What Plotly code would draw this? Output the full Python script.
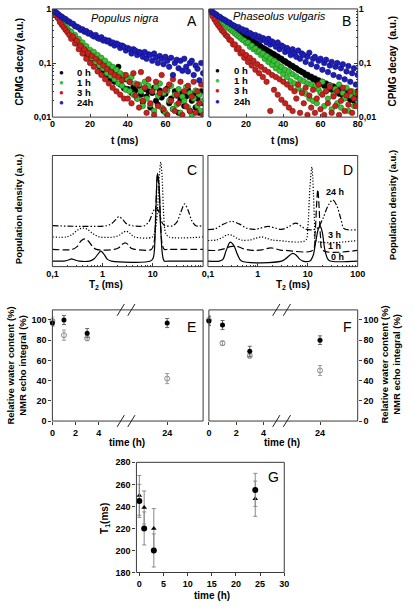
import plotly.graph_objects as go

W, H = 414, 607
FONT = "Liberation Sans, Arial, sans-serif"

# ---------------- DATA ----------------
TIME_MS = [0, 1, 2, 3, 4, 5, 6, 7, 8, 9, 10, 11, 12, 13, 14, 15, 16, 17, 18, 19,
           20, 21, 22, 23, 24, 25, 26, 27, 28, 29, 30, 31, 32, 33, 34, 35, 36, 37, 38, 39,
           40, 41, 42, 43, 44, 45, 46, 47, 48, 49, 50, 51, 52, 53, 54, 55, 56, 57, 58, 59,
           60, 61, 62, 63, 64, 65, 66, 67, 68, 69, 70, 71, 72, 73, 74, 75, 76, 77, 78, 79, 80]

# Panel A - Populus nigra CPMG decays
A_0H = [1.00, 0.89, 0.78, 0.69, 0.61, 0.54, 0.50, 0.43, 0.41, 0.36,
        0.34, 0.29, 0.29, 0.23, 0.25, 0.19, 0.21, 0.15, 0.17, 0.13,
        0.155, 0.115, 0.14, 0.095, 0.125, 0.085, 0.11, 0.072, 0.095, 0.06,
        0.085, 0.05, 0.075, 0.045, 0.06, 0.085, 0.04, 0.058, 0.034, 0.05,
        0.033, 0.045, 0.028, 0.036, 0.031, 0.022, 0.038, 0.026, 0.019, 0.033,
        0.024, 0.03, 0.015, 0.028, 0.035, 0.02, 0.017, 0.031, 0.023, 0.013,
        0.027, 0.034, 0.018, 0.022, 0.014, 0.03, 0.025, 0.012, 0.021, 0.028,
        0.016, 0.024, 0.032, 0.013, 0.02, 0.027, 0.015, 0.022, 0.012, 0.03, 0.018]
A_1H = [1.00, 0.91, 0.81, 0.73, 0.65, 0.59, 0.52, 0.48, 0.43, 0.39,
        0.38, 0.31, 0.33, 0.25, 0.28, 0.21, 0.24, 0.175, 0.205, 0.15,
        0.175, 0.125, 0.16, 0.105, 0.14, 0.09, 0.125, 0.08, 0.11, 0.065,
        0.095, 0.058, 0.085, 0.05, 0.075, 0.042, 0.065, 0.038, 0.06, 0.032,
        0.05, 0.03, 0.055, 0.026, 0.042, 0.022, 0.04, 0.03, 0.016, 0.045,
        0.022, 0.038, 0.017, 0.03, 0.013, 0.036, 0.025, 0.042, 0.015, 0.028,
        0.012, 0.031, 0.02, 0.038, 0.014, 0.026, 0.017, 0.033, 0.012, 0.024,
        0.02, 0.036, 0.015, 0.028, 0.011, 0.022, 0.031, 0.016, 0.026, 0.013, 0.02]
A_3H = [1.00, 0.86, 0.75, 0.67, 0.57, 0.51, 0.46, 0.41, 0.37, 0.33,
        0.28, 0.31, 0.23, 0.26, 0.18, 0.21, 0.15, 0.18, 0.12, 0.155,
        0.10, 0.135, 0.085, 0.12, 0.07, 0.105, 0.06, 0.09, 0.05, 0.078,
        0.042, 0.068, 0.035, 0.06, 0.03, 0.055, 0.026, 0.048, 0.022, 0.06,
        0.022, 0.045, 0.018, 0.065, 0.025, 0.04, 0.015, 0.068, 0.02, 0.035,
        0.012, 0.05, 0.018, 0.03, 0.011, 0.045, 0.016, 0.028, 0.06, 0.014,
        0.032, 0.011, 0.04, 0.02, 0.05, 0.013, 0.026, 0.018, 0.045, 0.011,
        0.03, 0.016, 0.038, 0.013, 0.024, 0.045, 0.012, 0.03, 0.018, 0.04, 0.011]
A_24H = [1.00, 0.94, 0.86, 0.81, 0.75, 0.72, 0.67, 0.65, 0.60, 0.58,
         0.54, 0.53, 0.48, 0.47, 0.45, 0.41, 0.42, 0.38, 0.39, 0.35,
         0.36, 0.33, 0.31, 0.33, 0.29, 0.28, 0.30, 0.26, 0.27, 0.25,
         0.26, 0.23, 0.24, 0.21, 0.23, 0.22, 0.19, 0.21, 0.20, 0.17,
         0.19, 0.18, 0.15, 0.18, 0.17, 0.14, 0.16, 0.155, 0.13, 0.16,
         0.12, 0.145, 0.14, 0.11, 0.15, 0.125, 0.10, 0.135, 0.12, 0.095,
         0.13, 0.11, 0.085, 0.125, 0.06, 0.10, 0.115, 0.08, 0.11, 0.072,
         0.12, 0.085, 0.07, 0.10, 0.11, 0.06, 0.09, 0.078, 0.048, 0.10, 0.065]

# Panel B - Phaseolus vulgaris CPMG decays
B_0H = [1.00, 0.92, 0.85, 0.79, 0.74, 0.69, 0.65, 0.61, 0.58, 0.54,
        0.51, 0.49, 0.46, 0.43, 0.41, 0.39, 0.37, 0.35, 0.33, 0.32,
        0.30, 0.285, 0.27, 0.26, 0.245, 0.235, 0.22, 0.215, 0.20, 0.19,
        0.182, 0.175, 0.165, 0.158, 0.15, 0.145, 0.135, 0.132, 0.122, 0.12,
        0.11, 0.108, 0.10, 0.097, 0.09, 0.088, 0.082, 0.08, 0.074, 0.072,
        0.068, 0.066, 0.06, 0.061, 0.055, 0.056, 0.05, 0.052, 0.046, 0.048,
        0.042, 0.045, 0.038, 0.042, 0.035, 0.039, 0.032, 0.037, 0.03, 0.034,
        0.027, 0.032, 0.025, 0.03, 0.023, 0.028, 0.021, 0.027, 0.02, 0.025, 0.03]
B_1H = [1.00, 0.90, 0.84, 0.75, 0.71, 0.65, 0.61, 0.56, 0.53, 0.49,
        0.46, 0.43, 0.40, 0.38, 0.35, 0.33, 0.31, 0.29, 0.27, 0.26,
        0.235, 0.24, 0.20, 0.21, 0.18, 0.185, 0.16, 0.165, 0.14, 0.15,
        0.12, 0.135, 0.105, 0.12, 0.092, 0.11, 0.08, 0.095, 0.072, 0.085,
        0.062, 0.075, 0.055, 0.07, 0.046, 0.062, 0.042, 0.056, 0.034, 0.05,
        0.03, 0.046, 0.027, 0.042, 0.022, 0.04, 0.02, 0.036, 0.018, 0.032,
        0.028, 0.045, 0.016, 0.03, 0.022, 0.038, 0.014, 0.026, 0.033, 0.018,
        0.04, 0.015, 0.028, 0.022, 0.035, 0.013, 0.025, 0.03, 0.016, 0.028, 0.02]
B_3H = [1.00, 0.85, 0.73, 0.64, 0.56, 0.50, 0.45, 0.40, 0.37, 0.33,
        0.31, 0.27, 0.26, 0.22, 0.22, 0.18, 0.19, 0.15, 0.16, 0.125,
        0.14, 0.105, 0.125, 0.09, 0.11, 0.075, 0.095, 0.065, 0.085, 0.055,
        0.075, 0.045, 0.068, 0.013, 0.06, 0.032, 0.055, 0.026, 0.05, 0.021,
        0.045, 0.018, 0.04, 0.015, 0.035, 0.013, 0.03, 0.022, 0.04, 0.012,
        0.028, 0.018, 0.035, 0.011, 0.025, 0.015, 0.032, 0.012, 0.022, 0.04,
        0.014, 0.026, 0.011, 0.03, 0.018, 0.036, 0.012, 0.024, 0.016, 0.03,
        0.011, 0.02, 0.035, 0.013, 0.025, 0.017, 0.03, 0.012, 0.022, 0.016, 0.028]
B_24H = [1.00, 0.95, 0.88, 0.82, 0.79, 0.73, 0.71, 0.66, 0.64, 0.61,
         0.57, 0.56, 0.52, 0.50, 0.48, 0.45, 0.46, 0.41, 0.42, 0.38,
         0.40, 0.35, 0.36, 0.34, 0.31, 0.33, 0.29, 0.31, 0.26, 0.29,
         0.27, 0.24, 0.28, 0.22, 0.25, 0.23, 0.20, 0.24, 0.18, 0.21,
         0.20, 0.16, 0.19, 0.17, 0.14, 0.18, 0.15, 0.13, 0.17, 0.12,
         0.15, 0.14, 0.105, 0.13, 0.155, 0.095, 0.12, 0.13, 0.085, 0.11,
         0.12, 0.075, 0.10, 0.115, 0.068, 0.09, 0.105, 0.06, 0.085, 0.10,
         0.055, 0.08, 0.095, 0.05, 0.07, 0.088, 0.045, 0.065, 0.08, 0.04, 0.06]

SERIES_NAMES = ["0 h", "1 h", "3 h", "24h"]
SERIES_COLORS = ["#000000", "#35c435", "#c8221e", "#1e1ebe"]
SERIES_EDGES = ["#000000", "#1d7a1d", "#7a1410", "#10106e"]

# Panels C, D - T2 distributions (curves offset vertically, a.u.)
C_0H_T2 = [0.1, 0.17, 0.21, 0.24, 0.28, 0.34, 0.55, 0.68, 0.8, 0.92, 1.05, 1.25, 1.5,
           9.0, 10.2, 11.3, 12.3, 13.2, 14.3, 15.5, 16.8, 20, 100]
C_0H_Y = [0, 0, 0.1, 0.2, 0.1, 0, 0, 0.2, 0.6, 0.9, 0.65, 0.15, 0,
          0, 0.3, 3.5, 7.9, 7.0, 3.0, 0.6, 0, 0, 0]
C_1H_T2 = [0.1, 0.25, 0.31, 0.37, 0.44, 0.52, 0.62, 0.75, 1.7, 2.1, 2.45, 2.8, 3.2, 3.7, 4.4,
           9.3, 10.5, 11.5, 12.4, 13.3, 14.3, 15.5, 17, 20, 100]
C_1H_Y = [1.05, 1.05, 1.3, 1.8, 2.0, 1.8, 1.35, 1.05, 1.05, 1.2, 1.5, 1.64, 1.5, 1.15, 1.05,
          1.05, 1.6, 5.0, 7.8, 6.5, 3.2, 1.4, 1.05, 1.05, 1.05]
C_3H_T2 = [0.1, 0.19, 0.25, 0.32, 0.4, 0.5, 0.65, 0.87, 1.7, 2.2, 2.6, 3.0, 3.5, 4.3,
           9.8, 11.2, 12.5, 13.6, 14.4, 15.3, 16.5, 18, 21, 100]
C_3H_Y = [2.17, 2.17, 2.4, 2.8, 2.97, 2.85, 2.45, 2.17, 2.17, 2.35, 2.6, 2.68, 2.5, 2.17,
          2.17, 2.8, 5.0, 8.0, 8.9, 7.5, 4.0, 2.5, 2.17, 2.17]
C_24H_T2 = [0.1, 1.2, 1.5, 1.8, 2.1, 2.5, 3.0, 3.8, 6.8, 8.5, 10.0, 11.3, 12.5, 14.0, 15.5, 17.5,
            25, 30, 36, 43, 50, 60, 72, 100]
C_24H_Y = [3.18, 3.18, 3.35, 3.7, 4.0, 3.75, 3.35, 3.18, 3.18, 3.6, 4.4, 4.75, 4.65, 4.0, 3.4, 3.18,
           3.18, 3.5, 4.4, 5.14, 4.6, 3.6, 3.18, 3.18]

D_0H_T2 = [0.1, 0.17, 0.2, 0.23, 0.28, 0.33, 0.39, 0.47, 3.0, 3.6, 4.3, 5.0, 5.8, 6.8, 8.0,
           11.0, 12.8, 14.5, 16.3, 17.6, 19.5, 22, 25, 28, 100]
D_0H_Y = [0, 0, 0.15, 0.9, 1.7, 1.4, 0.6, 0, 0, 0.2, 0.5, 0.69, 0.55, 0.2, 0,
          0, 0.5, 1.8, 2.9, 3.18, 2.6, 1.0, 0.2, 0, 0]
D_1H_T2 = [0.1, 0.15, 0.21, 0.28, 0.33, 0.4, 0.52, 0.7, 0.9, 1.2, 1.5, 1.8, 2.2, 2.8, 3.5,
           12.5, 14.0, 15.0, 15.9, 16.8, 18, 20, 100]
D_1H_Y = [0.96, 0.96, 1.1, 1.3, 1.34, 1.3, 1.1, 0.98, 0.96, 1.0, 1.12, 1.19, 1.12, 0.98, 0.96,
          0.96, 2.5, 5.0, 6.44, 5.0, 2.2, 0.96, 0.96]
D_3H_T2 = [0.1, 0.15, 0.2, 0.25, 0.31, 0.4, 0.5, 0.7, 0.9, 1.2, 1.5, 1.9, 2.5,
           9.0, 10.0, 11.0, 12.1, 13.0, 13.8, 14.5, 100]
D_3H_Y = [1.85, 1.9, 2.15, 2.38, 2.3, 2.0, 1.87, 1.9, 2.05, 2.17, 2.05, 1.9, 1.85,
          1.85, 3.0, 6.5, 8.46, 6.0, 3.0, 1.85, 1.85]
D_24H_T2 = [0.1, 0.14, 0.2, 0.3, 0.42, 0.6, 0.85, 1.1, 1.6, 2.3, 3.0, 4.0, 5.8, 7.5, 9.5,
            13.0, 16, 20, 25, 31.6, 38, 46, 54, 100]
D_24H_Y = [2.83, 2.9, 3.3, 3.57, 3.35, 2.95, 2.85, 2.95, 3.12, 2.95, 2.85, 3.05, 3.42, 3.1, 2.85,
           2.83, 3.0, 3.8, 4.9, 5.5, 5.0, 3.8, 2.9, 2.83]

# Panels E, F - relative water content / NMR echo integral
TIME_H = [0, 1, 3, 24]
E_FILLED = [97, 100, 87, 97]
E_FILLED_ERR = [3, 4.5, 4.5, 4.5]
E_OPEN = [99, 85, 82, 42]
E_OPEN_ERR = [4, 5, 2.5, 5]
F_FILLED = [99, 95, 69, 80]
F_FILLED_ERR = [4.5, 4.5, 5, 4.3]
F_OPEN = [100, 77, 64.5, 50]
F_OPEN_ERR = [4, 2, 2, 5]

# Panel G - T1
G_TIME = [0, 1, 3, 24]
G_CIRCLE = [245, 220, 200, 255]
G_CIRCLE_ERR = [15, 15, 15, 15]
G_TRIANGLE = [250, 239, 220, 247]
G_TRIANGLE_ERR = [18, 15, 18, 16]

# tick labels
LOG_DECAY_TICKS = [0.01, 0.1, 1]
LOG_DECAY_TEXT = ["0,01", "0,1", "1"]
T2_TICKS_C = [0.1, 1, 10]
T2_TEXT_C = ["0,1", "1", "10"]
T2_TICKS_D = [0.1, 1, 10, 100]
T2_TEXT_D = ["0,1", "1", "10", "100"]
MINOR_DECAY = [m * d for d in (0.01, 0.1) for m in range(2, 10)]
MINOR_T2 = [m * d for d in (0.1, 1, 10) for m in range(2, 10)]


# ---------------- helpers ----------------
def fx(p):
    return p / W


def fy(p):
    return 1 - p / H


def dom_x(a, b):
    return [fx(a), fx(b)]


def dom_y(top, bottom):
    return [fy(bottom), fy(top)]


TICKFONT = dict(family=FONT, size=9, color="#000", weight="bold")
AX = "#3a3a3a"

fig = go.Figure()

# ---------- Panels A and B ----------
for xa, ya, data in (("x", "y", (A_0H, A_1H, A_3H, A_24H)),
                     ("x2", "y2", (B_0H, B_1H, B_3H, B_24H))):
    for name, vals, col, edge in zip(SERIES_NAMES, data, SERIES_COLORS, SERIES_EDGES):
        fig.add_trace(go.Scatter(
            x=TIME_MS, y=vals, mode="markers", name=name, showlegend=False,
            marker=dict(size=5.5, color=col, line=dict(width=0.6, color=edge)),
            xaxis=xa, yaxis=ya))

# ---------- Panels C and D ----------
DASHES = ["solid", "7px,3px", "1.2px,1.8px", "6px,2px,1.5px,2px,1.5px,2px"]
for xa, ya, curves in (
        ("x3", "y3", ((C_0H_T2, C_0H_Y), (C_1H_T2, C_1H_Y), (C_3H_T2, C_3H_Y), (C_24H_T2, C_24H_Y))),
        ("x4", "y4", ((D_0H_T2, D_0H_Y), (D_1H_T2, D_1H_Y), (D_3H_T2, D_3H_Y), (D_24H_T2, D_24H_Y)))):
    for (tx, ty), dash in zip(curves, DASHES):
        fig.add_trace(go.Scatter(
            x=tx, y=ty, mode="lines", showlegend=False,
            line=dict(color="#000", width=1.2, dash=dash, shape="spline", smoothing=0.9),
            xaxis=xa, yaxis=ya))

# ---------- Panels E and F (broken x axes) ----------
left_idx = [i for i, t in enumerate(TIME_H) if t < 10]
right_idx = [i for i, t in enumerate(TIME_H) if t >= 10]


def add_rwc(xl, xr, ya, filled, ferr, opened, oerr):
    for idx, xa in ((left_idx, xl), (right_idx, xr)):
        fig.add_trace(go.Scatter(
            x=[TIME_H[i] for i in idx], y=[opened[i] for i in idx], mode="markers",
            showlegend=False, cliponaxis=False,
            marker=dict(symbol="circle-open", size=5, color="#8a8a8a", line=dict(width=1)),
            error_y=dict(type="data", array=[oerr[i] for i in idx], color="#9a9a9a",
                         thickness=1, width=2),
            xaxis=xa, yaxis=ya))
        fig.add_trace(go.Scatter(
            x=[TIME_H[i] for i in idx], y=[filled[i] for i in idx], mode="markers",
            showlegend=False, cliponaxis=False,
            marker=dict(symbol="circle", size=5, color="#000"),
            error_y=dict(type="data", array=[ferr[i] for i in idx], color="#666",
                         thickness=1, width=2),
            xaxis=xa, yaxis=ya))


add_rwc("x5", "x6", "y5", E_FILLED, E_FILLED_ERR, E_OPEN, E_OPEN_ERR)
add_rwc("x7", "x8", "y6", F_FILLED, F_FILLED_ERR, F_OPEN, F_OPEN_ERR)

# ---------- Panel G ----------
fig.add_trace(go.Scatter(
    x=G_TIME, y=G_TRIANGLE, mode="markers", showlegend=False, cliponaxis=False,
    marker=dict(symbol="triangle-up", size=5, color="#000"),
    error_y=dict(type="data", array=G_TRIANGLE_ERR, color="#8a8a8a", thickness=1, width=2),
    xaxis="x9", yaxis="y7"))
fig.add_trace(go.Scatter(
    x=G_TIME, y=G_CIRCLE, mode="markers", showlegend=False, cliponaxis=False,
    marker=dict(symbol="circle", size=6, color="#000"),
    error_y=dict(type="data", array=G_CIRCLE_ERR, color="#8a8a8a", thickness=1, width=2),
    xaxis="x9", yaxis="y7"))

# ---------------- axes ----------------
base = dict(showgrid=False, zeroline=False, showline=False, tickfont=TICKFONT,
            tickcolor=AX, tickwidth=1)

layout_axes = {}
# A
layout_axes["xaxis"] = dict(base, domain=dom_x(48, 204), range=[0, 80], anchor="y",
                            tickvals=[0, 20, 40, 60], ticks="inside", ticklen=3)
layout_axes["yaxis"] = dict(base, domain=dom_y(4, 114), type="log", range=[-2, 0], anchor="x",
                            tickvals=LOG_DECAY_TICKS, ticktext=LOG_DECAY_TEXT,
                            ticks="inside", ticklen=4,
                            minor=dict(tickmode="array", tickvals=MINOR_DECAY, ticks="inside",
                                       ticklen=2, tickcolor=AX, showgrid=False))
# B
layout_axes["xaxis2"] = dict(base, domain=dom_x(210, 364), range=[0, 80], anchor="y2",
                             tickvals=[0, 20, 40, 60, 80], ticks="inside", ticklen=3)
layout_axes["yaxis2"] = dict(base, domain=dom_y(4, 114), type="log", range=[-2, 0], anchor="x2",
                             side="right", tickvals=LOG_DECAY_TICKS, ticktext=LOG_DECAY_TEXT,
                             ticks="inside", ticklen=4,
                             minor=dict(tickmode="array", tickvals=MINOR_DECAY, ticks="inside",
                                        ticklen=2, tickcolor=AX, showgrid=False))
# C
layout_axes["xaxis3"] = dict(base, domain=dom_x(48, 204), type="log", range=[-1, 2], anchor="y3",
                             tickvals=T2_TICKS_C, ticktext=T2_TEXT_C, ticks="inside", ticklen=4,
                             minor=dict(tickmode="array", tickvals=MINOR_T2, ticks="inside",
                                        ticklen=2, tickcolor=AX, showgrid=False))
layout_axes["yaxis3"] = dict(base, domain=dom_y(153, 266), range=[-0.5, 9.5], anchor="x3",
                             showticklabels=False, ticks="")
# D
layout_axes["xaxis4"] = dict(base, domain=dom_x(209, 364), type="log", range=[-1, 2], anchor="y4",
                             tickvals=T2_TICKS_D, ticktext=T2_TEXT_D, ticks="inside", ticklen=4,
                             minor=dict(tickmode="array", tickvals=MINOR_T2, ticks="inside",
                                        ticklen=2, tickcolor=AX, showgrid=False))
layout_axes["yaxis4"] = dict(base, domain=dom_y(153, 266), range=[-0.5, 9.5], anchor="x4",
                             showticklabels=False, ticks="")
# E
layout_axes["xaxis5"] = dict(base, domain=dom_x(48, 126), range=[0, 6.5], anchor="y5",
                             tickvals=[0, 2, 4], ticks="outside", ticklen=3)
layout_axes["xaxis6"] = dict(base, domain=dom_x(126, 204), range=[20.6, 27.1], anchor="y5",
                             tickvals=[24], ticks="outside", ticklen=3)
layout_axes["yaxis5"] = dict(base, domain=dom_y(310, 423), range=[0, 110], anchor="x5",
                             tickvals=[0, 20, 40, 60, 80, 100], ticks="outside", ticklen=3)
# F
layout_axes["xaxis7"] = dict(base, domain=dom_x(210, 287), range=[0, 5.46], anchor="y6",
                             tickvals=[0, 2, 4], ticks="outside", ticklen=3)
layout_axes["xaxis8"] = dict(base, domain=dom_x(287, 364), range=[21.3, 26.77], anchor="y6",
                             tickvals=[24], ticks="outside", ticklen=3)
layout_axes["yaxis6"] = dict(base, domain=dom_y(310, 423), range=[0, 110], anchor="x8",
                             side="right", tickvals=[0, 20, 40, 60, 80, 100],
                             ticks="outside", ticklen=3)
# G
layout_axes["xaxis9"] = dict(base, domain=dom_x(135, 288), range=[-0.6, 30], anchor="y7",
                             tickvals=[0, 5, 10, 15, 20, 25, 30], ticks="outside", ticklen=3)
layout_axes["yaxis7"] = dict(base, domain=dom_y(465, 577), range=[180, 280], anchor="x9",
                             tickvals=[180, 200, 220, 240, 260, 280], ticks="outside", ticklen=3)

# ---------------- frames and break marks ----------------
shapes = []
for (l, t, r, b) in ((48, 4, 204, 114), (210, 4, 364, 114), (48, 153, 204, 266),
                     (209, 153, 364, 266), (48, 310, 204, 423), (210, 310, 364, 423),
                     (135, 465, 288, 577)):
    shapes.append(dict(type="rect", xref="paper", yref="paper", x0=fx(l), x1=fx(r),
                       y0=fy(b), y1=fy(t), line=dict(color=AX, width=1)))
for (xa, xb) in ((115, 126), (276, 288)):
    for yc in (310, 423):
        for off in (0, 11):
            shapes.append(dict(type="line", xref="paper", yref="paper",
                               x0=fx(xa + off), y0=fy(yc + 6), x1=fx(xa + off + 7.5), y1=fy(yc - 6),
                               line=dict(color="#222", width=1)))

# ---------------- annotations ----------------
ann = []


def text(x, y, s, size=10, bold=True, italic=False, angle=0, xanchor="center", color="#000"):
    ann.append(dict(xref="paper", yref="paper", x=fx(x), y=fy(y), text=s, showarrow=False,
                    xanchor=xanchor, yanchor="middle", textangle=angle,
                    font=dict(family=FONT, size=size, color=color,
                              weight="bold" if bold else "normal",
                              style="italic" if italic else "normal")))


text(123, 13, "Populus nigra", size=11, bold=False, italic=True)
text(283, 11, "Phaseolus vulgaris", size=11, bold=False, italic=True)
text(192, 16, "A", size=14, bold=False)
text(352, 16, "B", size=14, bold=False)
text(13, 58, "CPMG decay (a.u.)", angle=-90)
text(400, 57, "CPMG decay  (a.u.)", angle=-90)
text(123, 138, "t (ms)")
text(288, 138, "t (ms)")

# legends of A and B
for lx, tx0, rows in ((57, 71, (69, 79, 89, 99)), (219, 234, (67, 77, 87, 98))):
    for name, col, ry in zip(SERIES_NAMES, SERIES_COLORS, rows):
        text(lx, ry, "●", size=8, bold=False, color=col)
        text(tx0, ry, name, size=9.5, xanchor="left")

text(192, 168, "C", size=14, bold=False)
text(354, 168, "D", size=14, bold=False)
text(13, 208, "Population density (a.u.)", size=9.5, angle=-90)
text(400, 203, "Population density (a.u.)", size=9.5, angle=-90)
text(103, 285, "T<sub>2</sub> (ms)", size=10)
text(297, 285, "T<sub>2</sub> (ms)", size=10)
for s, lx, ly in (("24 h", 341, 190), ("3 h", 340, 234), ("1 h", 340, 245), ("0 h", 343, 256)):
    text(lx, ly, s, size=9)

text(192, 327, "E", size=14, bold=False)
text(353, 327, "F", size=14, bold=False)
text(11, 367, "Relative water content (%)<br>NMR echo integral (%)", size=9.5, angle=-90)
text(398, 366, "Relative water content (%)<br>NMR echo integral (%)", size=9.5, angle=-90)
text(125, 445, "time (h)")
text(286, 445, "time (h)")

text(277, 480, "G", size=14, bold=False)
text(103, 522, "T<sub>1</sub>(ms)", size=10, angle=-90)
text(213, 600, "time (h)")

fig.update_layout(
    width=W, height=H, autosize=False,
    margin=dict(l=0, r=0, t=0, b=0),
    paper_bgcolor="white", plot_bgcolor="white",
    font=dict(family=FONT, size=10, color="#000"),
    showlegend=False,
    shapes=shapes, annotations=ann,
    **layout_axes)

fig.write_html("out.html", config={"displayModeBar": False},
               post_script="document.body.style.margin='0';document.body.style.overflow='hidden';")
